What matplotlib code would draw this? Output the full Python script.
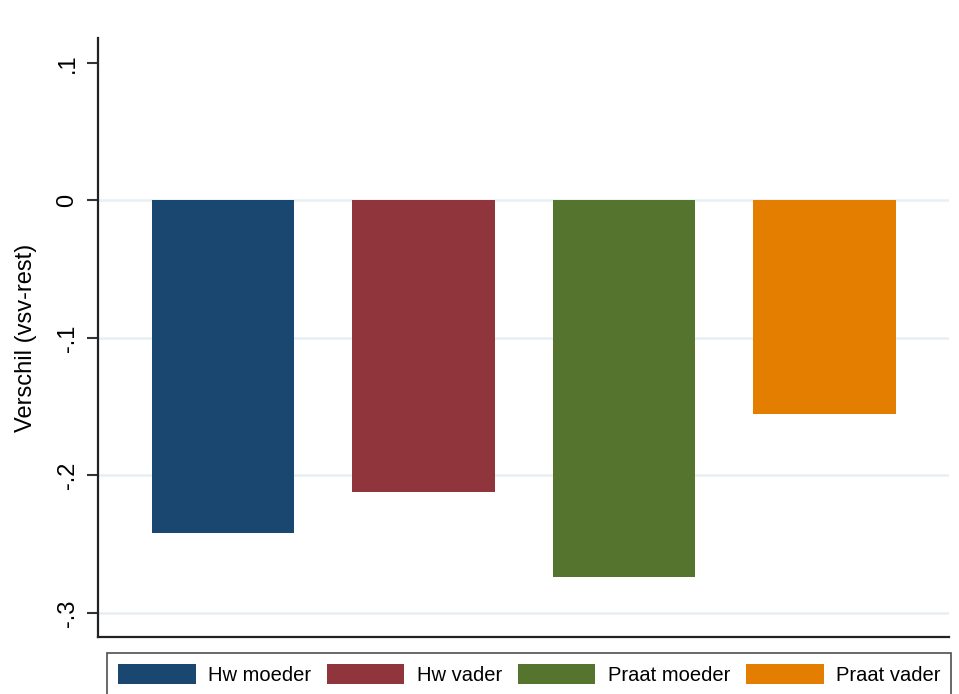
import matplotlib.pyplot as plt
from matplotlib.patches import Patch

# Data
groups = ['Hw moeder', 'Hw vader', 'Praat moeder', 'Praat vader']
verschil = [-0.2416, -0.2124, -0.2737, -0.1555]
colors = ['#1a476f', '#90353b', '#55752f', '#e37e00']
yticks = [-0.3, -0.2, -0.1, 0.0, 0.1]
ytick_labels = ['-.3', '-.2', '-.1', '0', '.1']
grid_at = [-0.3, -0.2, -0.1, 0.0]

plt.rcParams['font.family'] = ['Liberation Sans', 'DejaVu Sans']

fig = plt.figure(figsize=(9.59, 6.94), dpi=100)
ax = fig.add_axes([98 / 959, 1 - 637 / 694, (949 - 98) / 959, (637 - 38) / 694])

for g in grid_at:
    ax.axhline(g, color='#e6eff2', linewidth=1.8, zorder=0)

xpos = list(range(len(groups)))
ax.bar(xpos, verschil, width=0.71, color=colors, zorder=2)

ax.set_xlim(-0.623, 3.62)
ax.set_ylim(-0.3175, 0.118)
ax.set_xticks([])
ax.set_yticks(yticks)
ax.set_yticklabels(ytick_labels, rotation=90, va='center', fontsize=17)
ax.tick_params(axis='y', length=8, width=1.5, color='#333333', pad=6)
ax.set_ylabel('Verschil (vsv-rest)', fontsize=17, labelpad=14)

for side in ['top', 'right']:
    ax.spines[side].set_visible(False)
for side in ['left', 'bottom']:
    ax.spines[side].set_linewidth(1.6)
    ax.spines[side].set_color('#222222')

handles = [Patch(facecolor=c, edgecolor='none') for c in colors]
leg = fig.legend(handles, groups, loc='upper left', ncol=4,
                 bbox_to_anchor=(107 / 959, 1 - 653 / 694),
                 fontsize=14.5, frameon=True, fancybox=False,
                 handlelength=3.85, handleheight=1.18, handletextpad=0.6,
                 columnspacing=0.8, borderpad=0.55, borderaxespad=0)
leg.get_frame().set_edgecolor('#222222')
leg.get_frame().set_linewidth(1.2)

fig.savefig('out.png', dpi=100)
